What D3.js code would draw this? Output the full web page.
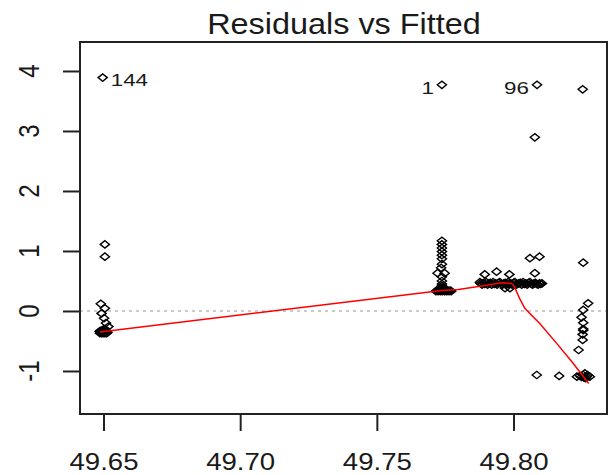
<!DOCTYPE html>
<html>
<head>
<meta charset="utf-8">
<script src="https://cdn.jsdelivr.net/npm/d3@7"></script>
<style>
body { margin: 0; background: #fff; }
text { font-family: "Liberation Sans", Arial, sans-serif; fill: #1a1a1a; }
</style>
</head>
<body>
<script>
var w = 610;
var h = 475;

// axis ticks
var xTicks = [49.65, 49.70, 49.75, 49.80];
var yTicks = [-1, 0, 1, 2, 3, 4];

// fitted value / residual pairs, one group per column of points
var leftFitted = [49.6497, 49.6505, 49.6505, 49.6490, 49.6505, 49.6493, 49.6502, 49.6509, 49.6518, 49.6499, 49.6506,
                  49.6486, 49.6489, 49.6492, 49.6495, 49.6498, 49.6501, 49.6504, 49.6507, 49.6510, 49.6513,
                  49.6487, 49.6490, 49.6493, 49.6496, 49.6499, 49.6502, 49.6505, 49.6508, 49.6511, 49.6514];
var leftResid  = [3.89, 1.11, 0.905, 0.12, 0.045, -0.04, -0.12, -0.2, -0.26, -0.31, -0.30,
                  -0.34, -0.33, -0.34, -0.33, -0.32, -0.33, -0.34, -0.33, -0.34, -0.35,
                  -0.37, -0.36, -0.37, -0.36, -0.37, -0.36, -0.37, -0.36, -0.37, -0.36];

var midFitted = [49.7738, 49.7738, 49.7738, 49.7738, 49.7738, 49.7738, 49.7738, 49.7738, 49.7735, 49.7722, 49.7748,
                 49.7738, 49.7738, 49.7738,
                 49.7716, 49.7720, 49.7724, 49.7728, 49.7732, 49.7736, 49.7740, 49.7744, 49.7748, 49.7752,
                 49.7756, 49.7760, 49.7764, 49.7768, 49.7772,
                 49.7726, 49.7732, 49.7738, 49.7744, 49.7750, 49.7734, 49.7742, 49.7738];
var midResid  = [3.77, 1.17, 1.11, 1.05, 0.99, 0.93, 0.87, 0.78, 0.72, 0.63, 0.63,
                 0.57, 0.5, 0.45,
                 0.33, 0.34, 0.33, 0.35, 0.33, 0.34, 0.33, 0.35, 0.33, 0.34,
                 0.33, 0.34, 0.33, 0.34, 0.33,
                 0.36, 0.37, 0.36, 0.37, 0.36, 0.39, 0.39, 0.42];

var bandFitted = [49.7877, 49.7895, 49.7938, 49.7985, 49.7969, 49.7987,
                  49.7880, 49.7885, 49.7890, 49.7895, 49.7900, 49.7905, 49.7910, 49.7915, 49.7920, 49.7925,
                  49.7930, 49.7935, 49.7940, 49.7945, 49.7950, 49.7955, 49.7960, 49.7965, 49.7970, 49.7975,
                  49.7980, 49.7985, 49.7990, 49.7995, 49.8000, 49.8005, 49.8010, 49.8015, 49.8020, 49.8025,
                  49.8030, 49.8035, 49.8040, 49.8045, 49.8050, 49.8055, 49.8060, 49.8065, 49.8070, 49.8075,
                  49.8080, 49.8085, 49.8090, 49.8095, 49.8100, 49.8104];
var bandResid  = [0.48, 0.61, 0.655, 0.61, 0.38, 0.38,
                  0.46, 0.44, 0.47, 0.45, 0.48, 0.44, 0.46, 0.47, 0.44, 0.48,
                  0.45, 0.46, 0.44, 0.47, 0.48, 0.45, 0.44, 0.46, 0.47, 0.44,
                  0.48, 0.45, 0.46, 0.44, 0.47, 0.48, 0.44, 0.45, 0.46, 0.47,
                  0.44, 0.48, 0.45, 0.46, 0.44, 0.47, 0.48, 0.45, 0.44, 0.46,
                  0.47, 0.45, 0.44, 0.46, 0.45, 0.46];

var col96Fitted = [49.8086, 49.8078, 49.8060, 49.8095, 49.8078, 49.8085, 49.8167];
var col96Resid  = [3.77, 2.895, 0.88, 0.905, 0.63, -1.067, -1.083];

var rightFitted = [49.8253, 49.8255, 49.8273, 49.8255, 49.8249, 49.8255, 49.8255, 49.8255, 49.8253, 49.8253, 49.8238,
                   49.8232, 49.8255, 49.8267, 49.8279, 49.8249, 49.8261, 49.8243, 49.8258, 49.8271, 49.8264];
var rightResid  = [3.695, 0.805, 0.128, 0.017, -0.105, -0.195, -0.3, -0.32, -0.39, -0.483, -0.65,
                   -1.095, -1.067, -1.095, -1.095, -1.1, -1.04, -1.08, -1.11, -1.07, -1.12];

// red smoother
var smoothFitted = [49.6487, 49.7738, 49.7798, 49.7902, 49.7956, 49.7993, 49.8003, 49.8023, 49.8042, 49.8096, 49.8158, 49.8218, 49.8275];
var smoothResid  = [-0.35, 0.34, 0.36, 0.43, 0.47, 0.46, 0.41, 0.2, 0.04, -0.21, -0.54, -0.87, -1.21];

// labelled observations
var idNames  = ["144", "1", "96"];
var idFitted = [49.6497, 49.7738, 49.8086];
var idResid  = [3.89, 3.77, 3.77];
var idSide   = ["right", "left", "left"];

var x = d3.scaleLinear().domain([49.6414, 49.8342]).range([80, 607]);
var y = d3.scaleLinear().domain([-1.717, 4.483]).range([414, 42]);

var svg = d3.select("body")
            .append("svg")
            .attr("width", w)
            .attr("height", h);

// dotted zero line
svg.append("line")
   .attr("x1", x.range()[0]).attr("x2", x.range()[1])
   .attr("y1", y(0)).attr("y2", y(0))
   .style("stroke", "#bbb")
   .style("stroke-width", 1.5)
   .style("stroke-dasharray", "3,4");

//collect points
var pts = [];
function addGroup(fx, ry) {
  fx.forEach(function(v, i) { pts.push({f: v, r: ry[i]}); });
}
addGroup(leftFitted, leftResid);
addGroup(midFitted, midResid);
addGroup(bandFitted, bandResid);
addGroup(col96Fitted, col96Resid);
addGroup(rightFitted, rightResid);

svg.selectAll("path.pt")
   .data(pts)
   .enter()
   .append("path")
   .attr("class", "pt")
   .attr("d", function(d) {
     var cx = x(d.f), cy = y(d.r);
     return "M" + (cx - 4.6) + "," + cy + "L" + cx + "," + (cy - 3.7) +
            "L" + (cx + 4.6) + "," + cy + "L" + cx + "," + (cy + 3.7) + "Z";
   })
   .style("fill", "none")
   .style("stroke", "#000")
   .style("stroke-width", 1.4);

// smoother
var smooth = smoothFitted.map(function(v, i) { return [v, smoothResid[i]]; });
svg.append("path")
   .datum(smooth)
   .attr("d", d3.line().x(function(d) { return x(d[0]); }).y(function(d) { return y(d[1]); }))
   .style("fill", "none")
   .style("stroke", "#ff0000")
   .style("stroke-width", 1.5);

// id labels
svg.selectAll("text.id")
   .data(idNames)
   .enter()
   .append("text")
   .attr("class", "id")
   .attr("transform", function(d, i) {
     var dx = idSide[i] == "right" ? 8 : -8;
     return "translate(" + (x(idFitted[i]) + dx) + "," + (y(idResid[i]) + 3) + ") scale(1.4,1)";
   })
   .attr("text-anchor", function(d, i) { return idSide[i] == "right" ? "start" : "end"; })
   .attr("dominant-baseline", "central")
   .style("font-size", "16px")
   .text(function(d) { return d; });

// x axis
var xAxis = svg.append("g")
   .attr("transform", "translate(0,414)")
   .call(d3.axisBottom(x).tickValues(xTicks).tickFormat(d3.format(".2f")).tickSize(17).tickPadding(23));
xAxis.select(".domain").remove();
xAxis.selectAll("line").style("stroke", "#222").style("stroke-width", 2);
xAxis.selectAll("text")
     .attr("transform", "scale(1.2,1)")
     .style("font-size", "23px")
     .style("fill", "#1a1a1a")
     .style("font-family", "Liberation Sans, Arial, sans-serif");

// y axis
var yAxis = svg.append("g")
   .attr("transform", "translate(80,0)")
   .call(d3.axisLeft(y).tickValues(yTicks).tickFormat("").tickSize(17));
yAxis.select(".domain").remove();
yAxis.selectAll("line").style("stroke", "#222").style("stroke-width", 2);

svg.selectAll("text.ylab")
   .data(yTicks)
   .enter()
   .append("text")
   .attr("class", "ylab")
   .attr("transform", function(d) { return "translate(29," + y(d) + ") scale(1.2,1) rotate(-90)"; })
   .attr("text-anchor", "middle")
   .attr("dominant-baseline", "central")
   .style("font-size", "24px")
   .text(function(d) { return String(d); });

// box
svg.append("rect")
   .attr("x", 80).attr("y", 42)
   .attr("width", 527).attr("height", 372)
   .style("fill", "none")
   .style("stroke", "#222")
   .style("stroke-width", 2);

// title
svg.append("text")
   .attr("transform", "translate(344,34) scale(1.08,1)")
   .attr("text-anchor", "middle")
   .style("font-size", "30px")
   .text("Residuals vs Fitted");
</script>
</body>
</html>
